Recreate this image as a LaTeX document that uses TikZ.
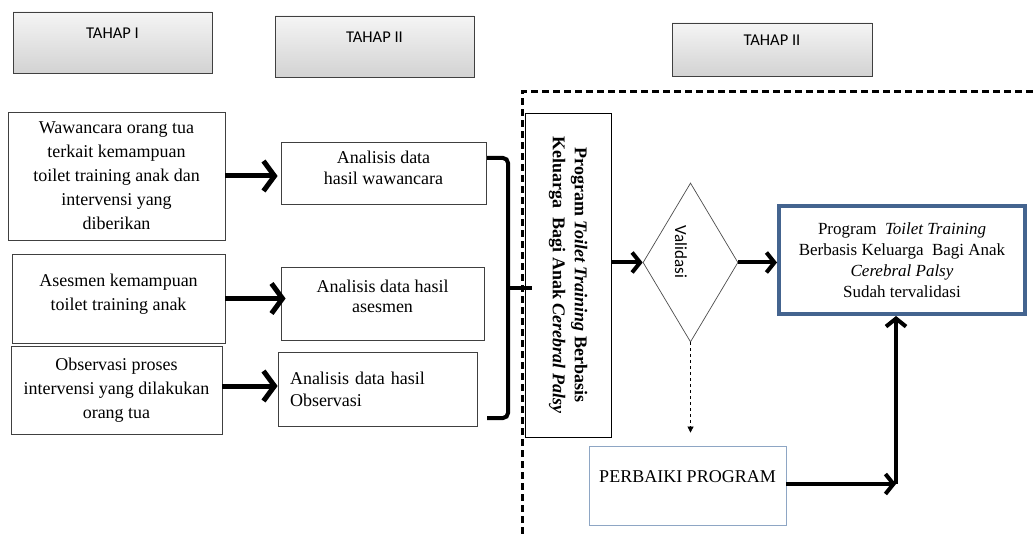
\documentclass[tikz,border=0pt]{standalone}
\usepackage{fontspec}
\setmainfont{Liberation Serif}
\newfontfamily\calfont{Carlito}
\usetikzlibrary{arrows.meta,shapes.geometric,shadows}

\definecolor{frameblue}{HTML}{44648F}
\definecolor{softblue}{HTML}{8EA6C4}

\tikzset{
  tahap/.style={draw=black!75, line width=0.8pt, top color=gray!8, bottom color=gray!35,
    drop shadow={opacity=0.2, shadow xshift=1pt, shadow yshift=-1.5pt},
    font=\calfont\fontsize{16.5}{18}\selectfont, text depth=18pt},
  plainbox/.style={draw=black!75, line width=0.8pt, inner sep=2pt, align=center,
    font=\fontsize{18}{24}\selectfont},
  fat/.style={line width=5pt, -{Straight Barb[length=11pt, width=30pt, line width=5pt]}},
  mid/.style={line width=4pt, -{Straight Barb[length=8pt, width=20pt, line width=4pt]}}
}

\begin{document}
\begin{tikzpicture}[x=1pt, y=-1pt]
        \useasboundingbox (0,0) rectangle (1035,534);

        % Stage headers
        \node[tahap, minimum width=199, minimum height=61] (tahapA) at (112.5,42.5) {TAHAP I};
        \node[tahap, minimum width=199, minimum height=61] (tahapB) at (374.5,46.5) {TAHAP II};
        \node[tahap, minimum width=200, minimum height=53] (tahapC) at (772,49.5) {TAHAP II};

        % Dashed frame of the last stage
        \draw[line width=3pt, dash pattern=on 7pt off 4pt] (522,534) -- (522,92) -- (1035,92);

        % Data collection
        \node[plainbox, minimum width=217, minimum height=128] (wawancara) at (116.5,176)
          {Wawancara orang tua\\terkait kemampuan\\toilet training anak dan\\intervensi yang\\diberikan};
        \node[plainbox, minimum width=213, minimum height=89, text depth=12pt] (asesmen) at (118.5,298.5)
          {Asesmen kemampuan\\toilet training anak};
        \node[plainbox, minimum width=211, minimum height=88] (observasi) at (116.5,390)
          {Observasi proses\\intervensi yang dilakukan\\orang tua};

        % Data analysis
        \node[plainbox, minimum width=205, minimum height=62, font=\fontsize{18}{21}\selectfont,
          text depth=10pt] (hasilW) at (383.5,173) {Analisis data\\hasil wawancara};
        \node[plainbox, minimum width=203, minimum height=73, font=\fontsize{18}{20}\selectfont,
          text depth=14pt, xshift=14pt] (hasilA) at (368.5,303.5) {Analisis data hasil\\asesmen};
        \node[plainbox, minimum width=199, minimum height=74, align=left, text width=175,
          inner xsep=12pt, font=\fontsize{18}{22}\selectfont] (hasilO) at (377.5,389)
          {Analisis data hasil\\Observasi};

        % Arrows into the analysis boxes
        \draw[fat] (wawancara.east) -- ([xshift=-3pt]wawancara.east -| hasilW.west);
        \draw[fat] (asesmen.east) -- ([xshift=5pt]asesmen.east -| hasilW.west);
        \draw[fat] ([yshift=4pt]observasi.east) -- ([yshift=4pt]observasi.east -| hasilO.west);

        % Brace joining the three analyses
        \draw[line width=4pt, rounded corners=5pt] (487,158) -- (508,158) -- (508,418) -- (487,418);
        \draw[line width=4pt] (506,288) -- (532,288);

        % Draft program
        \node[draw, line width=0.8pt, rotate=-90, minimum width=324, minimum height=86, align=center,
          font=\bfseries\fontsize{18}{22}\selectfont] (prog) at (568,275)
          {Program \textit{Toilet Training} Berbasis\\Keluarga\ \ Bagi Anak \textit{Cerebral Palsy}};

        % Validation
        \node[diamond, draw=black!70, line width=0.7pt, minimum width=95, minimum height=159,
          inner sep=0pt] (valid) at (690.5,262.5) {};
        \node[rotate=-90, align=center, inner sep=0pt, font=\calfont\fontsize{17}{18}\selectfont]
          (validtxt) at (681,252) {Validasi};

        % Result boxes
        \node[draw=frameblue, line width=4pt, minimum width=246, minimum height=108, align=center,
          font=\fontsize{17}{21}\selectfont] (done) at (902,260)
          {Program\ \ \textit{Toilet Training}\\Berbasis Keluarga\ \ Bagi Anak\\\textit{Cerebral Palsy}\\Sudah tervalidasi};
        \node[draw=softblue, line width=0.8pt, minimum width=197, minimum height=79,
          font=\fontsize{18}{20}\selectfont, text depth=18pt] (fix) at (687.5,485.5) {PERBAIKI PROGRAM};

        % Flow between the boxes
        \draw[mid] (prog.north |- valid.west) -- (valid.west);
        \draw[mid] (valid.east) -- (valid.east -| done.west);
        \draw[dashed, line width=0.7pt, -{Triangle[length=6pt, width=6pt]}, shorten >=13pt]
          (valid.south) -- (valid.south |- fix.north);
        \coordinate (turn) at (896,484);
        \draw[mid] (fix.east |- turn) -- (turn);
        \draw[mid] (turn) -- (turn |- done.south);
      \end{tikzpicture}
\end{document}
